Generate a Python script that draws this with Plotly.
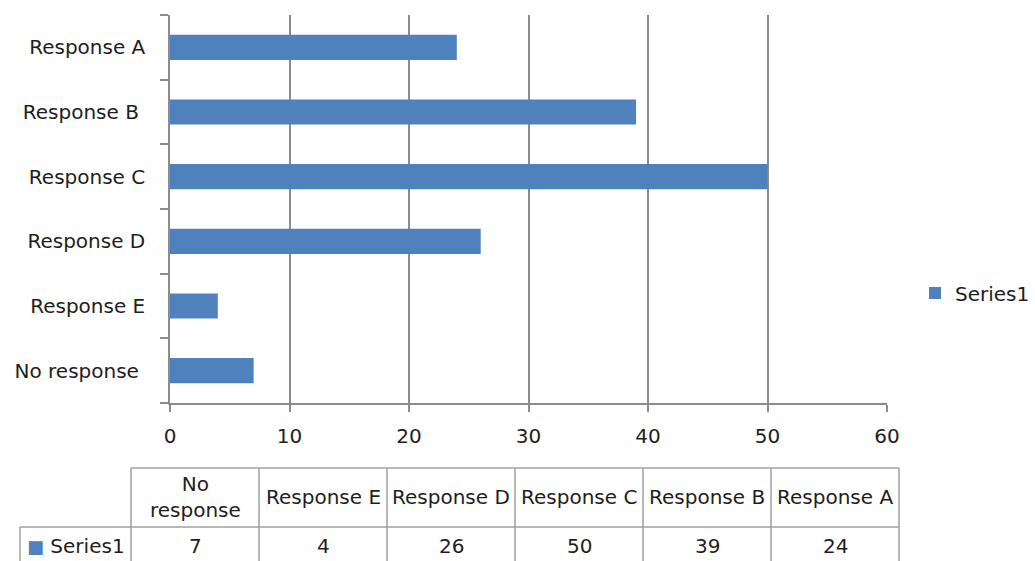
import plotly.graph_objects as go

# Survey responses (listed bottom-to-top on the bar chart, left-to-right in the table)
categories = ["No response", "Response E", "Response D", "Response C", "Response B", "Response A"]
values = [7, 4, 26, 50, 39, 24]
series_name = "Series1"
# Table header text (long label wraps onto two lines)
header_labels = ["No<br>response", "Response E", "Response D", "Response C", "Response B", "Response A"]
x_ticks = [0, 10, 20, 30, 40, 50, 60]

W, H = 1035, 561
BAR = "#4F81BD"
GRID = "#8C8C8C"
TABLE_LINE = "#A0A0A0"
TEXT = "#1E1E1E"
FONT = "DejaVu Sans"
FS = 20


def px_x(p):
    return p / W


def px_y(p):
    return 1 - p / H


fig = go.Figure()
fig.add_trace(go.Bar(
    x=values, y=categories, orientation="h", name=series_name,
    marker=dict(color=BAR, line=dict(width=0)),
    width=0.39, showlegend=True,
))

fig.update_layout(
    width=W, height=H,
    margin=dict(l=0, r=0, t=0, b=0, autoexpand=False),
    paper_bgcolor="white", plot_bgcolor="white",
    font=dict(family=FONT, size=FS, color=TEXT),
    xaxis=dict(
        domain=[px_x(170), px_x(887)], range=[0, 60],
        tickvals=x_ticks, showgrid=True, gridcolor=GRID, gridwidth=1.5,
        showline=True, linecolor=GRID, linewidth=1.5,
        ticks="outside", ticklen=7, tickcolor=GRID, tickwidth=1.5,
        ticklabelstandoff=7, zeroline=False, fixedrange=True,
    ),
    yaxis=dict(
        domain=[px_y(403), px_y(15)],
        type="category", categoryorder="array", categoryarray=categories,
        labelalias={"Response B": "Response B\u00a0", "No response": "No response\u00a0"},
        tickson="boundaries", ticks="outside", ticklen=8, tickcolor=GRID, tickwidth=1.5,
        showline=True, linecolor=GRID, linewidth=1.5, showgrid=False,
        ticklabelstandoff=19, fixedrange=True,
    ),
    legend=dict(x=px_x(915), y=px_y(293), xanchor="left", yanchor="middle",
                font=dict(family=FONT, size=FS, color=TEXT), bgcolor="rgba(0,0,0,0)"),
    showlegend=True,
)

# Data table below the chart: a label column followed by one column per category
n = len(categories)
label_w, col_w, table_left = 111, 128, 20


def col_edge(i):
    # left edge (px) of data column i; i == n gives the table's right edge
    return table_left + label_w + col_w * i


top, mid, bot = px_y(468), px_y(527), 0
line = dict(color=TABLE_LINE, width=1.5)
fig.add_shape(type="line", xref="paper", yref="paper", x0=px_x(col_edge(0)), x1=px_x(col_edge(n)),
              y0=top, y1=top, line=line)
fig.add_shape(type="line", xref="paper", yref="paper", x0=px_x(table_left), x1=px_x(col_edge(n)),
              y0=mid, y1=mid, line=line)
for i in range(n + 1):
    fig.add_shape(type="line", xref="paper", yref="paper", x0=px_x(col_edge(i)), x1=px_x(col_edge(i)),
                  y0=bot, y1=top, line=line)
fig.add_shape(type="line", xref="paper", yref="paper", x0=px_x(table_left), x1=px_x(table_left),
              y0=bot, y1=mid, line=line)

for i, (h, v) in enumerate(zip(header_labels, values)):
    cx = px_x(col_edge(i) + col_w / 2)
    fig.add_annotation(x=cx, y=px_y(497), xref="paper", yref="paper", text=h, showarrow=False,
                       xanchor="center", yanchor="middle", font=dict(size=FS, color=TEXT))
    fig.add_annotation(x=cx, y=px_y(546), xref="paper", yref="paper", text=str(v), showarrow=False,
                       xanchor="center", yanchor="middle", font=dict(size=FS, color=TEXT))

fig.add_annotation(
    x=px_x(table_left + label_w / 2), y=px_y(546), xref="paper", yref="paper",
    text=f"<span style='color:{BAR};font-size:18px'>■</span> {series_name}",
    showarrow=False, xanchor="center", yanchor="middle", font=dict(size=FS, color=TEXT),
)

fig.write_html("out.html")
